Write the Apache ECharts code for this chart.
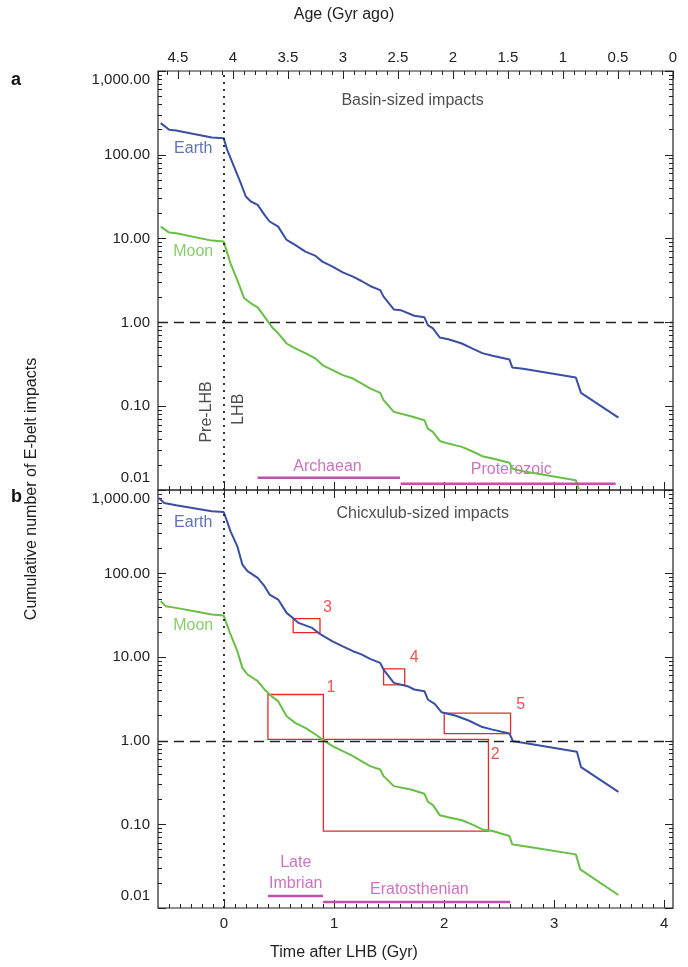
<!DOCTYPE html>
<html>
<head>
<meta charset="utf-8">
<script src="https://cdn.jsdelivr.net/npm/echarts@6/dist/echarts.min.js"></script>
<style>html,body{margin:0;padding:0;background:#fff}#main{width:688px;height:967px}</style>
</head>
<body>
<div id="main"></div>
<script>
// panel a: basin-sized impacts, [time after LHB (Gyr), cumulative number]
var earthA = [[-0.575,239],[-0.498,199],[-0.436,195],[-0.111,161],[-0.003,158],[0.028,115],[0.090,72.6],[0.152,45.9],[0.198,31.8],[0.244,27.7],[0.306,25.3],[0.368,19.2],[0.414,16.0],[0.492,13.9],[0.569,9.63],[0.646,8.40],[0.739,7.00],[0.832,6.21],[0.894,5.31],[0.986,4.63],[1.079,3.96],[1.172,3.52],[1.249,3.12],[1.327,2.72],[1.419,2.43],[1.450,2.03],[1.543,1.43],[1.605,1.40],[1.729,1.20],[1.821,1.15],[1.852,0.93],[1.899,0.85],[1.960,0.66],[2.038,0.63],[2.161,0.56],[2.254,0.49],[2.347,0.43],[2.440,0.40],[2.594,0.36],[2.619,0.29],[2.718,0.28],[3.197,0.22],[3.244,0.144],[3.584,0.073]];
var moonA = [[-0.575,13.9],[-0.498,11.8],[-0.436,11.6],[-0.111,9.46],[-0.003,9.21],[0.059,5.07],[0.121,3.20],[0.183,1.94],[0.244,1.69],[0.306,1.51],[0.368,1.17],[0.445,0.85],[0.492,0.74],[0.569,0.56],[0.646,0.49],[0.739,0.43],[0.832,0.37],[0.894,0.31],[0.986,0.27],[1.079,0.235],[1.172,0.214],[1.249,0.187],[1.327,0.163],[1.419,0.144],[1.450,0.118],[1.543,0.0855],[1.698,0.0759],[1.821,0.068],[1.852,0.054],[1.899,0.049],[1.960,0.0385],[2.038,0.0358],[2.161,0.0327],[2.254,0.029],[2.347,0.0253],[2.440,0.0237],[2.594,0.0212],[2.619,0.018],[2.718,0.0167],[3.197,0.0131],[3.228,0.0099]];
// panel b: Chicxulub-sized impacts
var earthB = [[-0.591,802],[-0.544,700],[-0.436,656],[-0.111,556],[-0.003,546],[0.028,422],[0.059,320],[0.121,212],[0.167,128],[0.213,107],[0.306,88.8],[0.368,70.6],[0.414,56.1],[0.492,48.9],[0.569,33.9],[0.631,29.0],[0.677,25.7],[0.801,22.4],[0.878,18.7],[0.986,15.5],[1.079,13.5],[1.172,11.8],[1.249,10.8],[1.327,9.55],[1.419,8.56],[1.450,7.12],[1.543,4.93],[1.667,4.50],[1.729,4.11],[1.821,3.92],[1.852,3.12],[1.914,2.77],[1.976,2.20],[2.100,2.01],[2.223,1.75],[2.347,1.46],[2.440,1.36],[2.594,1.22],[2.625,0.99],[2.718,0.946],[3.207,0.74],[3.244,0.485],[3.584,0.245]];
var moonB = [[-0.575,46.7],[-0.529,40.7],[-0.436,38.9],[-0.111,32.4],[-0.003,31.5],[0.059,18.7],[0.121,11.8],[0.167,7.46],[0.213,6.21],[0.306,5.17],[0.368,4.11],[0.430,3.42],[0.492,2.98],[0.569,1.97],[0.646,1.64],[0.739,1.43],[0.832,1.19],[0.894,1.04],[0.986,0.863],[1.079,0.752],[1.172,0.656],[1.249,0.572],[1.327,0.498],[1.419,0.454],[1.450,0.378],[1.543,0.287],[1.698,0.262],[1.821,0.233],[1.852,0.187],[1.899,0.170],[1.960,0.129],[2.038,0.122],[2.161,0.112],[2.254,0.100],[2.347,0.0871],[2.440,0.0832],[2.594,0.0726],[2.619,0.0577],[2.718,0.0551],[3.197,0.0438],[3.237,0.029],[3.584,0.0143]];
// red boxes in panel b: [t0, v0, t1, v1, label, labelT, labelV]
var boxes = [[0.399,3.58,0.903,1.04,'1',0.971,4.30],[0.903,1.04,2.403,0.083,'2',2.464,0.687],[0.628,29.0,0.872,19.7,'3',0.94,39.6],[1.450,7.26,1.642,4.67,'4',1.729,9.8],[2.001,2.14,2.604,1.22,'5',2.696,2.72]];
// geological periods: [t0, t1, v, name, labelT, labelV]
var erasA = [[0.306,1.599,0.014,'Archaean',0.94,0.0188],[1.605,3.559,0.0119,'Proterozoic',2.61,0.0173]];
var erasB = [[0.399,0.900,0.0139,'Late\nImbrian',0.652,0.026],[0.900,2.601,0.0118,'Eratosthenian',1.775,0.0167]];
var xTicks = [0, 1, 2, 3, 4];
var ageTicks = [0, 0.5, 1, 1.5, 2, 2.5, 3, 3.5, 4, 4.5];

var BLUE = '#3a4ea3', GREEN = '#68bf45', PINK = '#c04fae', RED = '#e62a2a';
var FONT = 'Liberation Sans';
var tMin = -0.6, tMax = 4.08, ageZero = 4.08;

var minorT = [];
for (var i = -5; i <= 40; i++) minorT.push(+(i / 10).toFixed(1));

function xAx(grid, pos, custom, len, labels) {
    return {
        type: 'value', gridIndex: grid, position: pos, min: tMin, max: tMax,
        axisLine: {show: false, onZero: false}, splitLine: {show: false},
        axisTick: {show: true, inside: true, length: len, customValues: custom, lineStyle: {color: '#222'}},
        axisLabel: {show: !!labels, customValues: custom, color: '#222', fontFamily: FONT, fontSize: 15, margin: 8}
    };
}
function yAx(grid, pos, labels) {
    return {
        type: 'log', logBase: 10, gridIndex: grid, position: pos, min: 0.01, max: 1000,
        axisLine: {show: false, onZero: false}, splitLine: {show: false},
        axisTick: {show: true, inside: true, length: 8, lineStyle: {color: '#222'}},
        minorTick: {show: true, splitNumber: 9, length: 4, lineStyle: {color: '#222'}},
        axisLabel: {
            show: labels, color: '#222', fontFamily: FONT, fontSize: 15, margin: 8,
            formatter: function (v) {
                if (v >= 999) return '{top|1,000.00}';
                if (v < 0.011) return '{bot|0.01}';
                return v.toFixed(2);
            },
            rich: {
                top: {fontFamily: FONT, fontSize: 15, color: '#222', padding: [18, 0, 0, 0]},
                bot: {fontFamily: FONT, fontSize: 15, color: '#222', padding: [0, 0, 24, 0]}
            }
        }
    };
}

function textSeries(xi, yi, items, color, size, rot) {
    return {
        type: 'scatter', xAxisIndex: xi, yAxisIndex: yi, symbolSize: 0, silent: true,
        data: items.map(function (d) { return {value: [d[0], d[1]], label: {formatter: d[2]}}; }),
        label: {show: true, position: 'inside', color: color, fontFamily: FONT, fontSize: size, rotate: rot || 0, lineHeight: 21}
    };
}
function eraSeries(xi, yi, eras) {
    return eras.map(function (e) {
        return {
            type: 'line', xAxisIndex: xi, yAxisIndex: yi, symbol: 'none', silent: true,
            lineStyle: {color: PINK, width: 2.5},
            data: [[e[0], e[2]], [e[1], e[2]]]
        };
    });
}
function refLines() {
    return {
        silent: true, symbol: 'none', label: {show: false},
        data: [
            {yAxis: 1, lineStyle: {type: [10, 6], color: '#222', width: 1.3}},
            {xAxis: 0, lineStyle: {type: [2, 5], color: '#222', width: 1.8}}
        ]
    };
}

var myChart = echarts.init(document.getElementById('main'));
var option = {
    animation: false,
    backgroundColor: '#fff',
    grid: [
        {left: 158, width: 515, top: 71, height: 419, show: true, borderColor: '#222', borderWidth: 1.2, backgroundColor: 'transparent'},
        {left: 158, width: 515, top: 490, height: 418, show: true, borderColor: '#222', borderWidth: 1.2, backgroundColor: 'transparent'}
    ],
    xAxis: [
        xAx(0, 'bottom', xTicks, 8, false),
        xAx(0, 'bottom', minorT, 4, false),
        xAx(1, 'top', xTicks, 8, false),
        xAx(1, 'top', minorT, 4, false),
        xAx(1, 'bottom', xTicks, 8, true),
        xAx(1, 'bottom', minorT, 4, false),
        {
            type: 'value', gridIndex: 0, position: 'top', inverse: true,
            min: ageZero - tMax, max: ageZero - tMin, interval: 0.5,
            axisLine: {show: false, onZero: false}, splitLine: {show: false},
            axisTick: {show: true, inside: true, length: 8, lineStyle: {color: '#222'}},
            minorTick: {show: true, splitNumber: 5, length: 4, lineStyle: {color: '#222'}},
            axisLabel: {color: '#222', fontFamily: FONT, fontSize: 15, margin: 6,
                formatter: function (v) { return ageTicks.indexOf(+v.toFixed(1)) >= 0 ? String(+v.toFixed(1)) : ''; }}
        }
    ],
    yAxis: [yAx(0, 'left', true), yAx(0, 'right', false), yAx(1, 'left', true), yAx(1, 'right', false)],
    graphic: [
        {type: 'text', left: 'center', top: 7, style: {text: 'Age (Gyr ago)', fontFamily: FONT, fontSize: 16, fill: '#222'}},
        {type: 'text', left: 'center', top: 945, style: {text: 'Time after LHB (Gyr)', fontFamily: FONT, fontSize: 16, fill: '#222'}},
        {type: 'text', x: 32, y: 489, rotation: Math.PI / 2, style: {text: 'Cumulative number of E-belt impacts', fontFamily: FONT, fontSize: 16, fill: '#222', align: 'center', verticalAlign: 'middle'}},
        {type: 'text', x: 11, y: 71, style: {text: 'a', fontFamily: FONT, fontSize: 18, fontWeight: 'bold', fill: '#111'}},
        {type: 'text', x: 11, y: 488, style: {text: 'b', fontFamily: FONT, fontSize: 18, fontWeight: 'bold', fill: '#111'}}
    ],
    series: [
        {type: 'line', name: 'Earth', xAxisIndex: 0, yAxisIndex: 0, symbol: 'none', data: earthA, lineStyle: {color: BLUE, width: 2}, markLine: refLines()},
        {type: 'line', name: 'Moon', xAxisIndex: 0, yAxisIndex: 0, symbol: 'none', data: moonA, lineStyle: {color: GREEN, width: 2}},
        {type: 'line', name: 'Earth', xAxisIndex: 4, yAxisIndex: 2, symbol: 'none', data: earthB, lineStyle: {color: BLUE, width: 2}, markLine: refLines()},
        {type: 'line', name: 'Moon', xAxisIndex: 4, yAxisIndex: 2, symbol: 'none', data: moonB, lineStyle: {color: GREEN, width: 2},
            markArea: {
                silent: true,
                itemStyle: {color: 'transparent', borderColor: RED, borderWidth: 1.3},
                data: boxes.map(function (b) { return [{coord: [b[0], b[1]]}, {coord: [b[2], b[3]]}]; })
            }},
        textSeries(4, 2, boxes.map(function (b) { return [b[5], b[6], b[4]]; }), RED, 16),
        textSeries(0, 0, [[-0.28, 118, 'Earth']], BLUE, 16),
        textSeries(0, 0, [[-0.28, 7.0, 'Moon']], GREEN, 16),
        textSeries(4, 2, [[-0.28, 404, 'Earth']], BLUE, 16),
        textSeries(4, 2, [[-0.28, 24.1, 'Moon']], GREEN, 16),
        textSeries(0, 0, [[1.713, 446, 'Basin-sized impacts']], '#222', 16),
        textSeries(4, 2, [[1.806, 516, 'Chicxulub-sized impacts']], '#222', 16),
        textSeries(0, 0, [[-0.158, 0.0855, 'Pre-LHB'], [0.136, 0.092, 'LHB']], '#222', 16, 90),
        textSeries(0, 0, erasA.map(function (e) { return [e[4], e[5], e[3]]; }), PINK, 16),
        textSeries(4, 2, erasB.map(function (e) { return [e[4], e[5], e[3]]; }), PINK, 16)
    ].concat(eraSeries(0, 0, erasA), eraSeries(4, 2, erasB))
};
myChart.setOption(option);
</script>
</body>
</html>
